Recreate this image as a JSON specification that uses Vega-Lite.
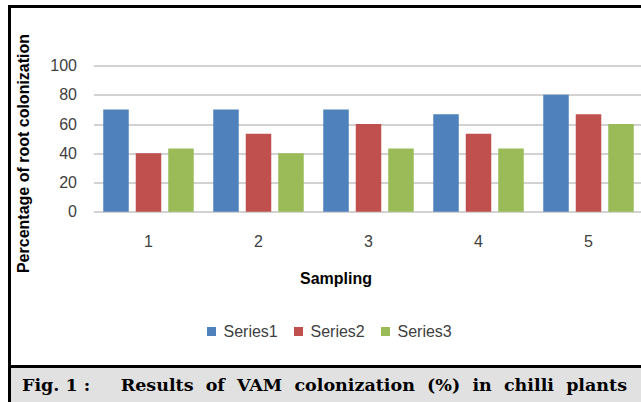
{
  "$schema": "https://vega.github.io/schema/vega-lite/v6.json",
  "autosize": {"type": "pad"},
  "padding": {"left": 7.5, "top": 4.5, "right": 0, "bottom": 0},
  "background": "white",
  "bounds": "flush",
  "spacing": 0,
  "config": {"font": "Liberation Sans"},
  "vconcat": [
    {
      "width": 634,
      "height": 360,
      "view": {"stroke": "black", "strokeWidth": 3, "fill": "white"},
      "data": {
        "values": [
          {"Sampling": "1", "Series": "Series1", "Value": 70},
          {"Sampling": "1", "Series": "Series2", "Value": 40},
          {"Sampling": "1", "Series": "Series3", "Value": 43.3},
          {"Sampling": "2", "Series": "Series1", "Value": 70},
          {"Sampling": "2", "Series": "Series2", "Value": 53.3},
          {"Sampling": "2", "Series": "Series3", "Value": 40},
          {"Sampling": "3", "Series": "Series1", "Value": 70},
          {"Sampling": "3", "Series": "Series2", "Value": 60},
          {"Sampling": "3", "Series": "Series3", "Value": 43.3},
          {"Sampling": "4", "Series": "Series1", "Value": 66.7},
          {"Sampling": "4", "Series": "Series2", "Value": 53.3},
          {"Sampling": "4", "Series": "Series3", "Value": 43.3},
          {"Sampling": "5", "Series": "Series1", "Value": 80},
          {"Sampling": "5", "Series": "Series2", "Value": 66.7},
          {"Sampling": "5", "Series": "Series3", "Value": 60}
        ]
      },
      "mark": {"type": "bar"},
      "encoding": {
        "x": {
          "field": "Sampling",
          "type": "nominal",
          "scale": {"range": [84, 634], "paddingInner": 0.1773, "paddingOuter": 0.0886},
          "axis": {
            "title": "Sampling",
            "labelAngle": 0,
            "domain": false,
            "ticks": false,
            "tickSize": 0,
            "labelPadding": 0,
            "offset": -133,
            "labelFontSize": 16,
            "labelColor": "#404040",
            "titleFontSize": 16,
            "titleFontWeight": "bold",
            "titleColor": "black",
            "titleX": 326,
            "titleY": 50,
            "titleBaseline": "alphabetic"
          }
        },
        "xOffset": {
          "field": "Series",
          "type": "nominal",
          "scale": {"paddingInner": 0.215, "paddingOuter": 0}
        },
        "y": {
          "field": "Value",
          "type": "quantitative",
          "scale": {"domain": [0, 100], "range": [205.3, 59], "nice": false},
          "axis": {
            "title": "Percentage of root colonization",
            "values": [0, 20, 40, 60, 80, 100],
            "grid": true,
            "gridColor": "#a6a6a6",
            "gridWidth": 1.2,
            "domain": false,
            "ticks": false,
            "tickSize": 0,
            "labelPadding": 0,
            "offset": -67,
            "labelFontSize": 16,
            "labelColor": "#404040",
            "titleFontSize": 16,
            "titleFontWeight": "bold",
            "titleColor": "black",
            "titleX": -48.5,
            "titleY": 146.5,
            "titleBaseline": "alphabetic"
          }
        },
        "color": {
          "field": "Series",
          "type": "nominal",
          "scale": {"domain": ["Series1", "Series2", "Series3"], "range": ["#4F81BD", "#C0504D", "#9BBB59"]},
          "legend": {
            "orient": "none",
            "legendX": 194,
            "legendY": 317,
            "direction": "horizontal",
            "title": null,
            "symbolType": "square",
            "symbolSize": 81,
            "symbolStrokeWidth": 0,
            "labelFontSize": 16,
            "labelColor": "#404040",
            "labelOffset": 4,
            "columnPadding": 12,
            "padding": 0
          }
        }
      }
    },
    {
      "width": 634,
      "height": 38,
      "view": {"stroke": "black", "strokeWidth": 3, "fill": "#e1e1e1"},
      "data": {"values": [{"caption": "Fig. 1 :\u00a0\u00a0\u00a0\u00a0\u00a0Results\u00a0\u00a0of\u00a0\u00a0VAM\u00a0\u00a0colonization\u00a0\u00a0(%)\u00a0\u00a0in\u00a0\u00a0chilli\u00a0\u00a0plants"}]},
      "mark": {"type": "text", "font": "DejaVu Serif", "fontWeight": "bold", "fontSize": 17.5, "color": "black", "baseline": "middle", "dx": -2},
      "encoding": {"text": {"field": "caption", "type": "nominal"}}
    }
  ]
}
